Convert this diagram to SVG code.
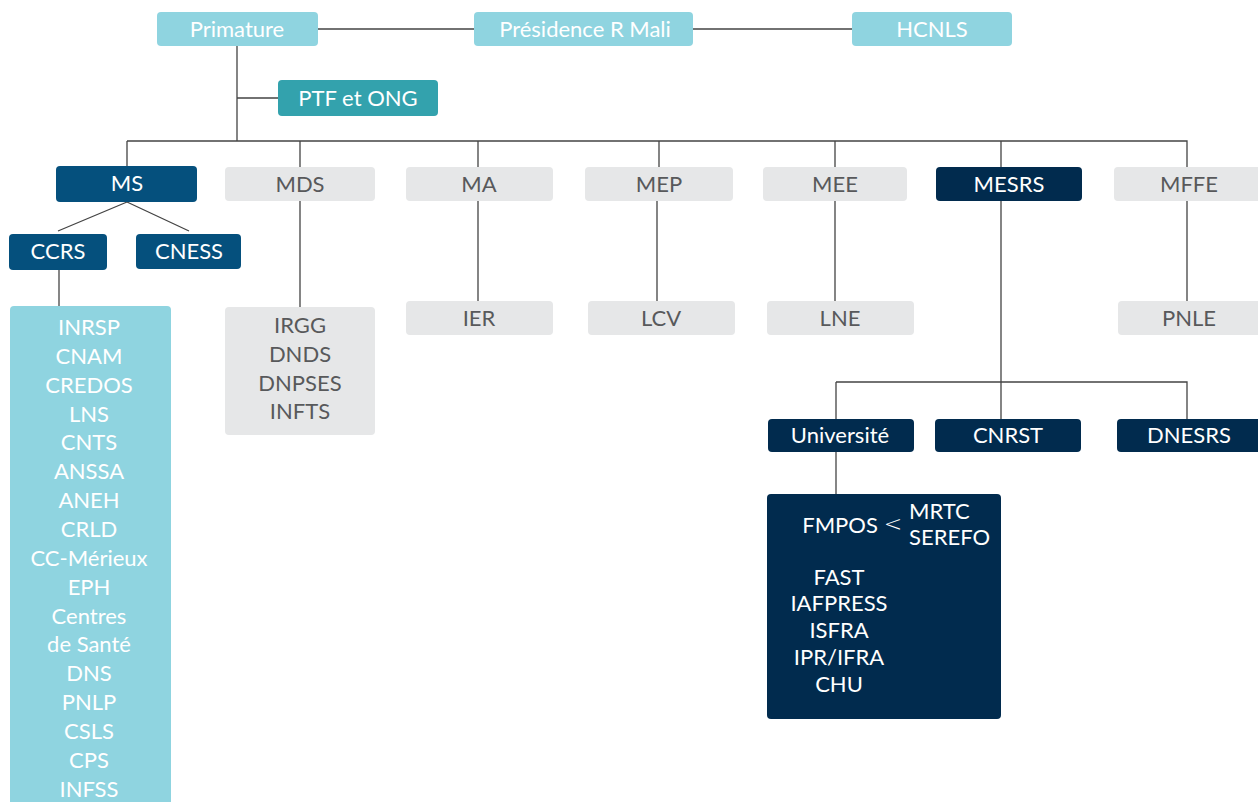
<svg xmlns="http://www.w3.org/2000/svg" width="1258" height="802" viewBox="0 0 1258 802">
<style>
text{font-family:Lato,"Open Sans","Liberation Sans",sans-serif;font-size:22px;text-anchor:middle}
.lb rect{fill:#8fd4e0}
.tl rect{fill:#33a2ad}
.ms rect{fill:#05507d}
.nv rect{fill:#012b4e}
.gr rect{fill:#e6e7e8}
.lb text,.tl text,.ms text,.nv text{fill:#ffffff}
.gr text{fill:#58595b}
#connectors path{fill:none;stroke:#444;stroke-width:1.3}
</style>
<rect width="1258" height="802" fill="#ffffff"/>
<g id="connectors">
<path d="M318 29H474M693 29H852"/>
<path d="M237 46V141M237 98H278"/>
<path d="M127 141H1187V167M127 141V166M300 141V167M478 141V167M659 141V167M835 141V167M1001 141V167"/>
<path d="M127 202L58 231M127 202L189 231"/>
<path d="M59 270V306"/>
<path d="M300 201V307M478 201V301M657 201V301M835 201V301M1187 201V301"/>
<path d="M1001 201V419M836 382H1187V419M836 382V419"/>
<path d="M836 452V494"/>
</g>
<g id="primature" class="lb"><rect x="157" y="12" width="161" height="34" rx="4"/><text x="237" y="37">Primature</text></g>
<g id="presidence" class="lb"><rect x="474" y="12" width="219" height="34" rx="4"/><text x="585" y="37">Présidence R Mali</text></g>
<g id="hcnls" class="lb"><rect x="852" y="12" width="160" height="34" rx="4"/><text x="932" y="37">HCNLS</text></g>
<g id="ptf" class="tl"><rect x="278" y="80" width="160" height="36" rx="4"/><text x="358" y="106">PTF et ONG</text></g>
<g id="ms" class="ms"><rect x="56" y="166" width="141" height="36" rx="4"/><text x="127" y="191">MS</text></g>
<g id="ccrs" class="ms"><rect x="9" y="234" width="98" height="36" rx="4"/><text x="58" y="259">CCRS</text></g>
<g id="cness" class="ms"><rect x="136" y="234" width="105" height="35" rx="4"/><text x="189" y="259">CNESS</text></g>
<g id="ccrs-list" class="lb"><rect x="10" y="306" width="161" height="510" rx="4"/>
<text x="89" y="335">INRSP</text>
<text x="89" y="364">CNAM</text>
<text x="89" y="393">CREDOS</text>
<text x="89" y="422">LNS</text>
<text x="89" y="450">CNTS</text>
<text x="89" y="479">ANSSA</text>
<text x="89" y="508">ANEH</text>
<text x="89" y="537">CRLD</text>
<text x="89" y="566">CC-Mérieux</text>
<text x="89" y="595">EPH</text>
<text x="89" y="624">Centres</text>
<text x="89" y="652">de Santé</text>
<text x="89" y="681">DNS</text>
<text x="89" y="710">PNLP</text>
<text x="89" y="739">CSLS</text>
<text x="89" y="768">CPS</text>
<text x="89" y="797">INFSS</text>
</g>
<g id="mds" class="gr"><rect x="225" y="167" width="150" height="34" rx="4"/><text x="300" y="192">MDS</text></g>
<g id="ma" class="gr"><rect x="406" y="167" width="147" height="34" rx="4"/><text x="479" y="192">MA</text></g>
<g id="mep" class="gr"><rect x="585" y="167" width="148" height="34" rx="4"/><text x="659" y="192">MEP</text></g>
<g id="mee" class="gr"><rect x="763" y="167" width="144" height="34" rx="4"/><text x="835" y="192">MEE</text></g>
<g id="mesrs" class="nv"><rect x="936" y="167" width="146" height="34" rx="4"/><text x="1009" y="192">MESRS</text></g>
<g id="mffe" class="gr"><rect x="1114" y="167" width="150" height="34" rx="4"/><text x="1189" y="192">MFFE</text></g>
<g id="mds-list" class="gr"><rect x="225" y="307" width="150" height="128" rx="4"/>
<text x="300" y="333">IRGG</text>
<text x="300" y="362">DNDS</text>
<text x="300" y="391">DNPSES</text>
<text x="300" y="419">INFTS</text>
</g>
<g id="ier" class="gr"><rect x="406" y="301" width="147" height="34" rx="4"/><text x="479" y="326">IER</text></g>
<g id="lcv" class="gr"><rect x="588" y="301" width="147" height="34" rx="4"/><text x="661" y="326">LCV</text></g>
<g id="lne" class="gr"><rect x="767" y="301" width="147" height="34" rx="4"/><text x="840" y="326">LNE</text></g>
<g id="pnle" class="gr"><rect x="1118" y="301" width="150" height="34" rx="4"/><text x="1189" y="326">PNLE</text></g>
<g id="universite" class="nv"><rect x="768" y="419" width="146" height="33" rx="4"/><text x="840" y="443">Université</text></g>
<g id="cnrst" class="nv"><rect x="935" y="419" width="146" height="33" rx="4"/><text x="1008" y="443">CNRST</text></g>
<g id="dnesrs" class="nv"><rect x="1117" y="419" width="150" height="33" rx="4"/><text x="1189" y="443">DNESRS</text></g>
<g id="universite-list" class="nv"><rect x="767" y="494" width="234" height="225" rx="4"/>
<text x="840" y="533">FMPOS</text>
<text x="893" y="531" style="font-family:'DejaVu Sans',sans-serif;font-weight:200;font-size:22px">&lt;</text>
<text x="909" y="519" style="text-anchor:start">MRTC</text>
<text x="909" y="545" style="text-anchor:start">SEREFO</text>
<text x="839" y="585">FAST</text>
<text x="839" y="611">IAFPRESS</text>
<text x="839" y="638">ISFRA</text>
<text x="839" y="665">IPR/IFRA</text>
<text x="839" y="692">CHU</text>
</g>
</svg>
